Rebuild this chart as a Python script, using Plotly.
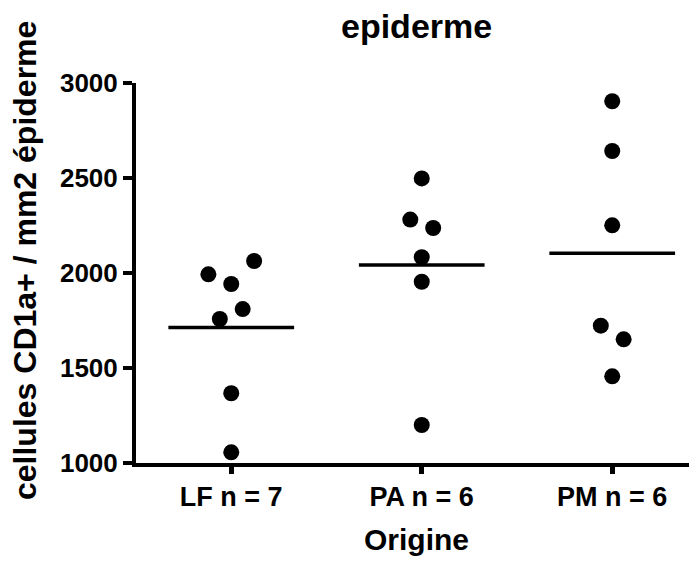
import numpy as np
import plotly.graph_objects as go

# ---- data ----
groups = ["LF n = 7", "PA n = 6", "PM n = 6"]
lf_values = [2063, 1993, 1942, 1810, 1758, 1367, 1056]
pa_values = [2498, 2281, 2237, 2083, 1954, 1200]
pm_values = [2904, 2642, 2251, 1723, 1651, 1456]
# horizontal spread of overlapping points (category units)
lf_spread = [0.12, -0.12, 0.0, 0.06, -0.06, 0.0, 0.0]
pa_spread = [0.0, -0.06, 0.06, 0.0, 0.0, 0.0]
pm_spread = [0.0, 0.0, 0.0, -0.06, 0.06, 0.0]
y_ticks = [1000, 1500, 2000, 2500, 3000]

all_values = [lf_values, pa_values, pm_values]
all_spread = [lf_spread, pa_spread, pm_spread]

FONT = "Liberation Sans"
W, H = 689, 553  # page body adds an 8px offset
PLOT_H = 380
fig = go.Figure()

for i, (vals, spr) in enumerate(zip(all_values, all_spread)):
    pos = i + 1
    fig.add_trace(go.Scatter(
        x=[pos + s for s in spr], y=vals, mode="markers",
        marker=dict(color="black", size=16, line=dict(width=0)),
        showlegend=False, cliponaxis=False))
    m = float(np.mean(vals))
    fig.add_trace(go.Scatter(
        x=[pos - 0.33, pos + 0.33], y=[m, m], mode="lines",
        line=dict(color="black", width=3.5),
        showlegend=False, cliponaxis=False))

fig.update_layout(
    width=W, height=H,
    margin=dict(l=128, r=0, t=75, b=98),
    paper_bgcolor="white", plot_bgcolor="white",
    font=dict(family=FONT, color="black"),
    xaxis=dict(range=[0.5, 3.445], tickmode="array", tickvals=[1, 2, 3],
               ticktext=["<b>%s</b>" % g for g in groups],
               showline=True, linecolor="black", linewidth=4,
               ticks="outside", ticklen=7, tickwidth=5, tickcolor="black",
               showgrid=False, zeroline=False,
               tickfont=dict(size=27, family=FONT, color="black")),
    yaxis=dict(range=[1000, 3000], tickmode="array", tickvals=y_ticks,
               ticktext=["<b>%d</b>" % v for v in y_ticks],
               showline=True, linecolor="black", linewidth=4,
               ticks="outside", ticklen=9, tickwidth=4, tickcolor="black",
               showgrid=False, zeroline=False,
               tickfont=dict(size=26, family=FONT, color="black")),
    annotations=[
        dict(text="<b>epiderme</b>", xref="paper", yref="paper",
             x=0.5, y=1 + (75 - 18) / PLOT_H, xanchor="center", yanchor="middle",
             showarrow=False, font=dict(size=34, family=FONT, color="black")),
        dict(text="<b>Origine</b>", xref="paper", yref="paper",
             x=0.5, y=-(539 - 463) / PLOT_H, xanchor="center", yanchor="middle",
             showarrow=False, font=dict(size=30, family=FONT, color="black")),
        dict(text="<b>cellules CD1a+ / mm2 épiderme</b>", xref="paper", yref="paper",
             x=-(136 - 25) / 561, y=(463 - 261) / PLOT_H, xanchor="center", yanchor="middle",
             textangle=-90, showarrow=False,
             font=dict(size=32, family=FONT, color="black")),
    ],
)

fig.write_html("out.html")
